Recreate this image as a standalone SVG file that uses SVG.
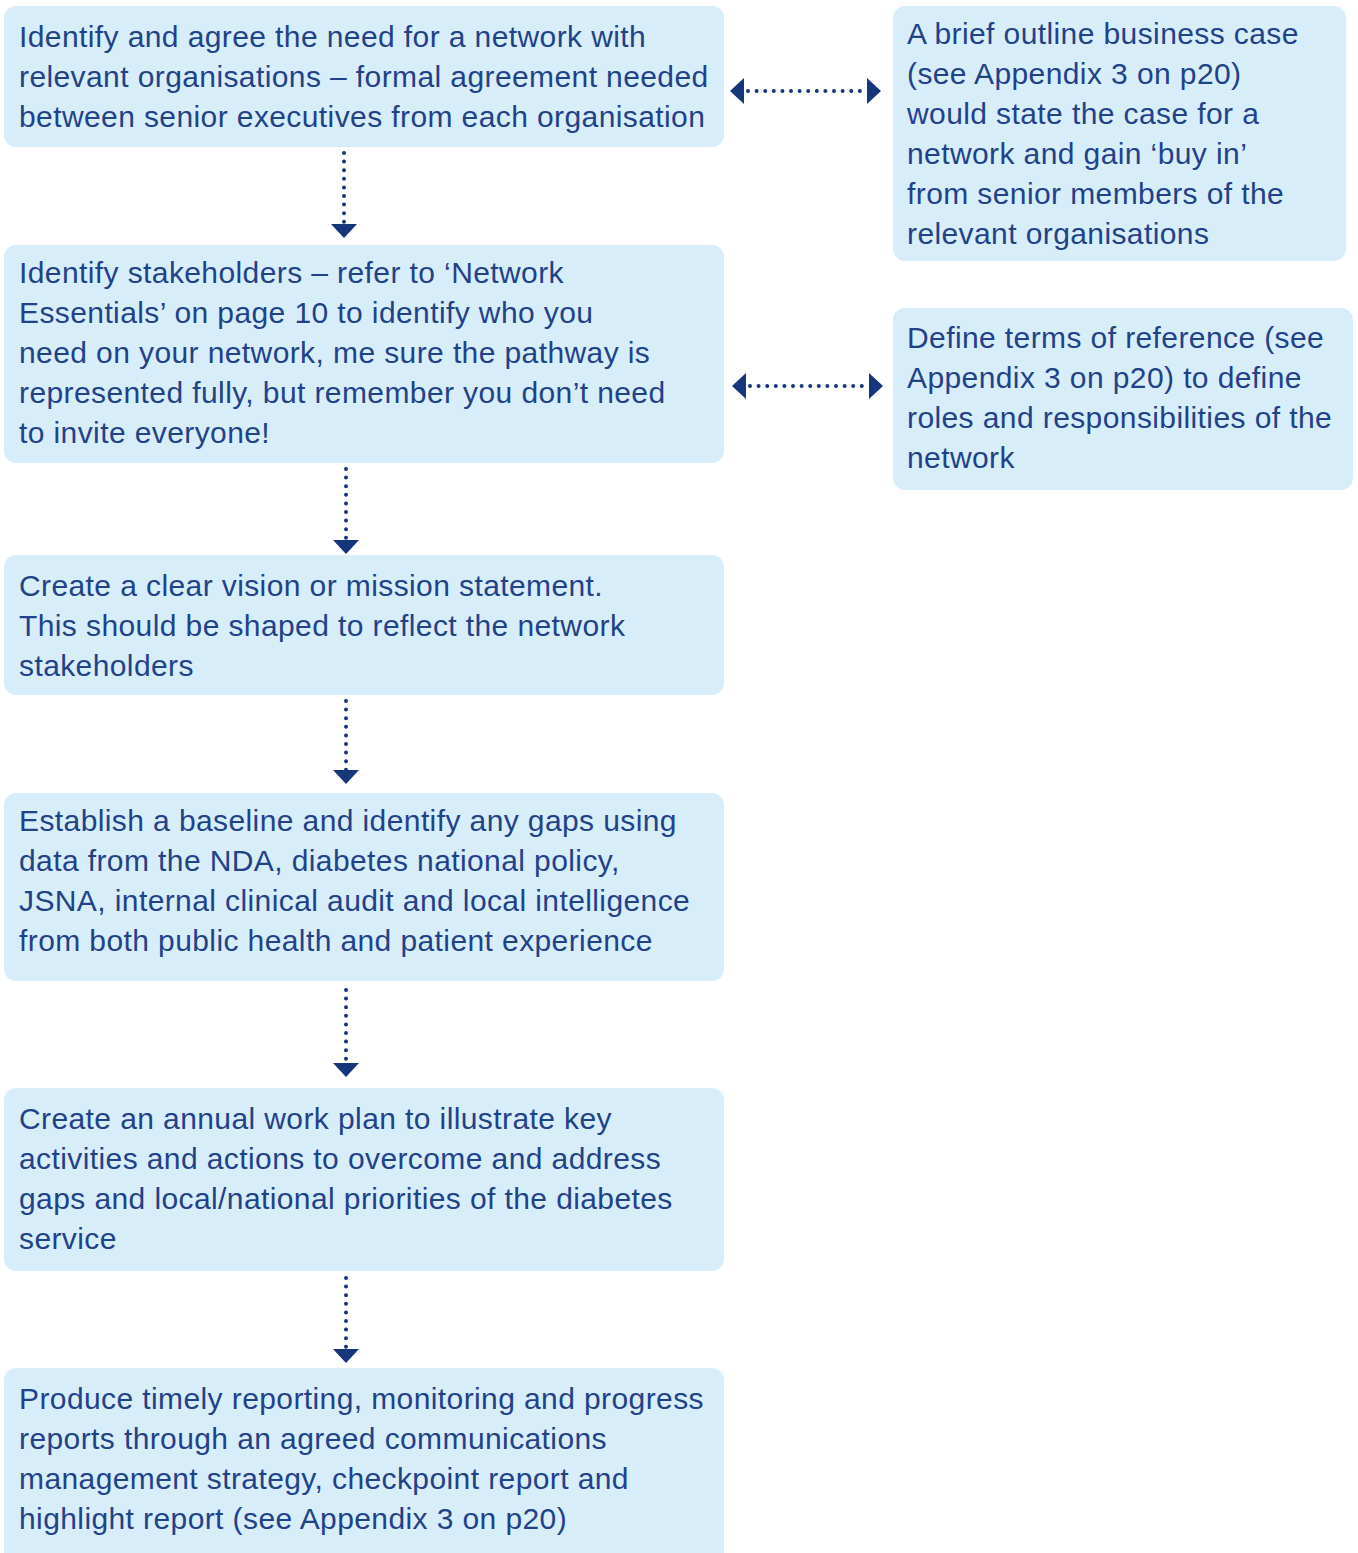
<svg xmlns="http://www.w3.org/2000/svg" width="1358" height="1553" viewBox="0 0 1358 1553">
<style>
.box{fill:#d8edfa;}
.t{font-family:"Liberation Sans",Arial,sans-serif;font-size:30px;letter-spacing:0.4px;fill:#1f4289;}
.dot{stroke:#17357a;stroke-width:4;stroke-linecap:round;stroke-dasharray:0 8.6;fill:none;}
.head{fill:#17357a;}
</style>
<rect width="1358" height="1553" fill="#ffffff"/>
<g id="node1"><rect class="box" x="4" y="6" width="720" height="141" rx="12"/>
<text class="t" x="19" y="47">Identify and agree the need for a network with</text>
<text class="t" x="19" y="87">relevant organisations – formal agreement needed</text>
<text class="t" x="19" y="127">between senior executives from each organisation</text></g>
<g id="node_r1"><rect class="box" x="893" y="6" width="453" height="255" rx="12"/>
<text class="t" x="907" y="44">A brief outline business case</text>
<text class="t" x="907" y="84">(see Appendix 3 on p20)</text>
<text class="t" x="907" y="124">would state the case for a</text>
<text class="t" x="907" y="164">network and gain ‘buy in’</text>
<text class="t" x="907" y="204">from senior members of the</text>
<text class="t" x="907" y="244">relevant organisations</text></g>
<g id="node2"><rect class="box" x="4" y="245" width="720" height="218" rx="12"/>
<text class="t" x="19" y="283">Identify stakeholders – refer to ‘Network</text>
<text class="t" x="19" y="323">Essentials’ on page 10 to identify who you</text>
<text class="t" x="19" y="363">need on your network, me sure the pathway is</text>
<text class="t" x="19" y="403">represented fully, but remember you don’t need</text>
<text class="t" x="19" y="443">to invite everyone!</text></g>
<g id="node_r2"><rect class="box" x="893" y="308" width="460" height="182" rx="12"/>
<text class="t" x="907" y="348">Define terms of reference (see</text>
<text class="t" x="907" y="388">Appendix 3 on p20) to define</text>
<text class="t" x="907" y="428">roles and responsibilities of the</text>
<text class="t" x="907" y="468">network</text></g>
<g id="node3"><rect class="box" x="4" y="555" width="720" height="140" rx="12"/>
<text class="t" x="19" y="596">Create a clear vision or mission statement.</text>
<text class="t" x="19" y="636">This should be shaped to reflect the network</text>
<text class="t" x="19" y="676">stakeholders</text></g>
<g id="node4"><rect class="box" x="4" y="793" width="720" height="188" rx="12"/>
<text class="t" x="19" y="831">Establish a baseline and identify any gaps using</text>
<text class="t" x="19" y="871">data from the NDA, diabetes national policy,</text>
<text class="t" x="19" y="911">JSNA, internal clinical audit and local intelligence</text>
<text class="t" x="19" y="951">from both public health and patient experience</text></g>
<g id="node5"><rect class="box" x="4" y="1088" width="720" height="183" rx="12"/>
<text class="t" x="19" y="1129">Create an annual work plan to illustrate key</text>
<text class="t" x="19" y="1169">activities and actions to overcome and address</text>
<text class="t" x="19" y="1209">gaps and local/national priorities of the diabetes</text>
<text class="t" x="19" y="1249">service</text></g>
<g id="node6"><rect class="box" x="4" y="1368" width="720" height="200" rx="12"/>
<text class="t" x="19" y="1409">Produce timely reporting, monitoring and progress</text>
<text class="t" x="19" y="1449">reports through an agreed communications</text>
<text class="t" x="19" y="1489">management strategy, checkpoint report and</text>
<text class="t" x="19" y="1529">highlight report (see Appendix 3 on p20)</text></g>
<g id="connectors">
<line class="dot" x1="344" y1="153" x2="344" y2="222"/>
<polygon class="head" points="331,224 357,224 344,238"/>
<line class="dot" x1="346" y1="469" x2="346" y2="538"/>
<polygon class="head" points="333,540 359,540 346,554"/>
<line class="dot" x1="346" y1="701" x2="346" y2="770"/>
<polygon class="head" points="333,770 359,770 346,784"/>
<line class="dot" x1="346" y1="990" x2="346" y2="1061"/>
<polygon class="head" points="333,1063 359,1063 346,1077"/>
<line class="dot" x1="346" y1="1278" x2="346" y2="1347"/>
<polygon class="head" points="333,1349 359,1349 346,1363"/>
<line class="dot" x1="748" y1="91" x2="866" y2="91"/>
<polygon class="head" points="730,91 744,78 744,104"/>
<polygon class="head" points="881,91 867,78 867,104"/>
<line class="dot" x1="750" y1="386" x2="868" y2="386"/>
<polygon class="head" points="732,386 746,373 746,399"/>
<polygon class="head" points="883,386 869,373 869,399"/>
</g>
</svg>
